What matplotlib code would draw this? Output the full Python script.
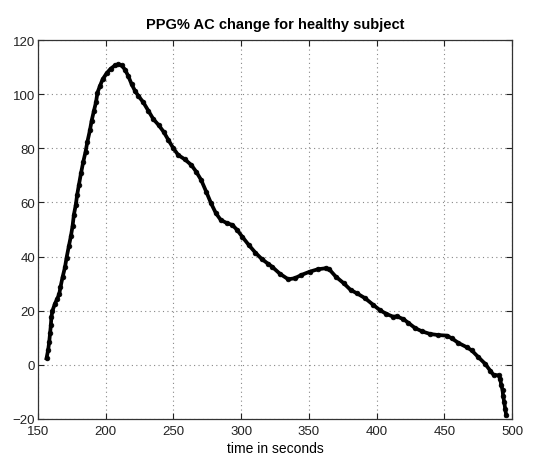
import matplotlib
matplotlib.use("Agg")
import matplotlib.pyplot as plt

# time (s) and PPG% AC change readings
time_s = [156.4, 157.6, 158.4, 159.0, 159.6, 160.0, 160.8, 162.6, 164.3, 165.8,
          166.7, 168.2, 170.0, 171.2, 172.9, 174.4, 175.6, 176.6, 178.0, 179.0,
          180.3, 181.8, 183.5, 185.2, 186.5, 188.4, 189.7, 191.4, 192.9, 194.0,
          195.8, 197.8, 200.7, 203.7, 206.9, 209.4, 211.8, 214.3, 216.7, 219.2,
          221.7, 224.1, 227.8, 231.5, 235.2, 239.1, 242.8, 246.4, 250.0, 253.6,
          258.5, 263.3, 266.9, 270.5, 274.2, 277.8, 281.4, 285.0, 289.8, 293.5,
          297.1, 300.7, 305.6, 310.4, 315.2, 320.0, 322.7, 328.7, 334.8, 339.6,
          344.4, 350.5, 356.5, 362.6, 365.0, 369.8, 375.8, 380.7, 385.5, 391.5,
          397.6, 402.4, 407.2, 412.1, 414.8, 419.7, 423.4, 428.3, 433.3, 439.4,
          445.6, 451.7, 455.4, 460.3, 466.5, 470.2, 475.1, 480.0, 483.7, 486.2,
          489.9, 491.1, 491.9, 492.9, 493.3, 494.1, 494.8, 495.6]
ppg_ac = [2.4, 5.5, 8.5, 11.6, 14.6, 17.7, 20.0, 22.6, 24.4, 26.2,
          28.7, 32.3, 36.0, 39.6, 43.9, 47.6, 51.2, 55.5, 59.1, 62.8,
          66.5, 70.7, 75.0, 78.7, 82.3, 86.6, 90.2, 93.9, 97.0, 100.6,
          103.0, 105.5, 107.7, 109.4, 110.6, 111.0, 110.6, 109.1, 106.7, 103.7,
          101.2, 99.4, 97.0, 93.9, 90.8, 88.6, 86.1, 83.0, 80.0, 77.5,
          75.9, 73.8, 71.3, 68.3, 64.0, 59.7, 56.0, 53.5, 52.3, 51.7,
          49.8, 47.4, 44.3, 41.5, 39.1, 37.3, 36.3, 33.6, 31.6, 32.0,
          33.2, 34.4, 35.3, 35.7, 35.3, 32.6, 30.1, 27.7, 26.4, 24.6,
          22.1, 20.2, 18.8, 17.8, 17.9, 16.9, 15.5, 13.6, 12.4, 11.4,
          11.0, 10.8, 9.8, 8.1, 6.5, 5.3, 2.8, 0.4, -2.1, -3.7,
          -3.9, -5.2, -7.4, -9.4, -11.5, -13.7, -16.2, -18.7]

x_ticks = [150, 200, 250, 300, 350, 400, 450, 500]
y_ticks = [-20, 0, 20, 40, 60, 80, 100, 120]

plt.rcParams['font.family'] = ['Liberation Sans', 'DejaVu Sans']

fig = plt.figure(figsize=(5.33, 4.56), dpi=100)
ax = fig.add_axes([0.071, 0.079, 0.890, 0.831])

ax.plot(time_s, ppg_ac, color='black', linewidth=2.7, marker='o',
        markersize=3.4, markeredgewidth=0.5)

ax.set_xlim(150, 500)
ax.set_ylim(-20, 120)
ax.set_xticks(x_ticks)
ax.set_yticks(y_ticks)
ax.grid(True, linestyle=(0, (1, 3)), color='#888888', linewidth=0.8)
ax.tick_params(direction='in', top=True, right=True, labelsize=9.5, length=4,
               colors='#222222')
ax.tick_params(axis='x', pad=4)
ax.tick_params(axis='y', pad=2)
for s in ax.spines.values():
    s.set_linewidth(0.9)
    s.set_color('#333333')

ax.set_title('PPG% AC change for healthy subject', fontsize=10.5, fontweight='bold', pad=9)
ax.set_xlabel('time in seconds', fontsize=10, labelpad=3)

fig.savefig('out.png', dpi=100)
